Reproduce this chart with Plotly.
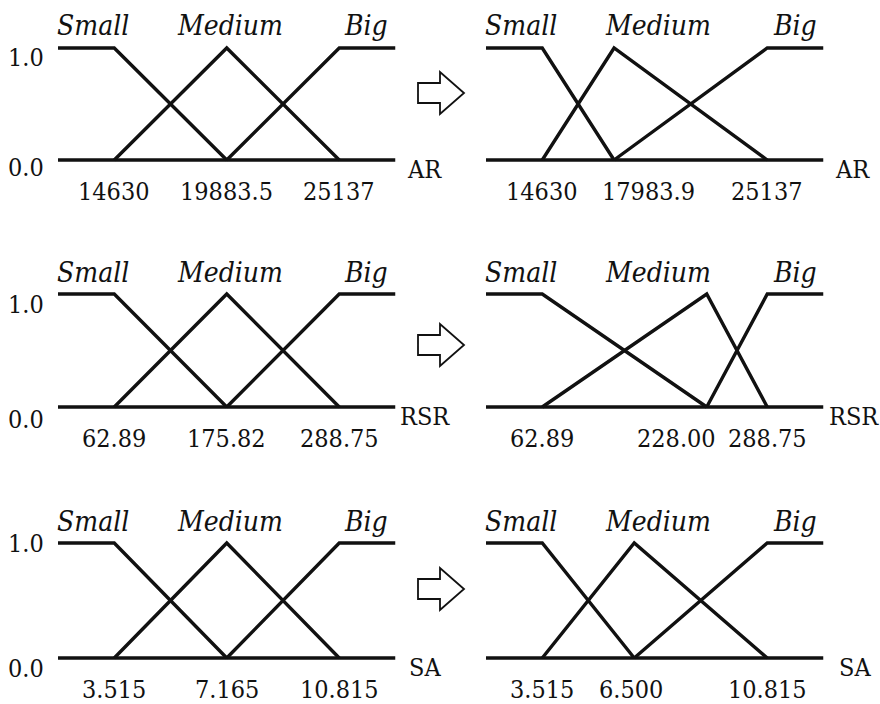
import plotly.graph_objects as go

# Fuzzy sets for each attribute, before and after tuning
set_names = ["Small", "Medium", "Big"]
variables = ["AR", "RSR", "SA"]

ar_before = [14630, 19883.5, 25137]
ar_after = [14630, 17983.9, 25137]
rsr_before = [62.89, 175.82, 288.75]
rsr_after = [62.89, 228.00, 288.75]
sa_before = [3.515, 7.165, 10.815]
sa_after = [3.515, 6.500, 10.815]

ar_before_labels = ["14630", "19883.5", "25137"]
ar_after_labels = ["14630", "17983.9", "25137"]
rsr_before_labels = ["62.89", "175.82", "288.75"]
rsr_after_labels = ["62.89", "228.00", "288.75"]
sa_before_labels = ["3.515", "7.165", "10.815"]
sa_after_labels = ["3.515", "6.500", "10.815"]

grade_labels = ["0.0", "1.0"]

W, H = 880, 704
FONT = "DejaVu Serif Condensed"
INK = "#111111"

panels = [
    (ar_before, ar_before_labels, variables[0], 0, 0),
    (ar_after, ar_after_labels, variables[0], 0, 1),
    (rsr_before, rsr_before_labels, variables[1], 1, 0),
    (rsr_after, rsr_after_labels, variables[1], 1, 1),
    (sa_before, sa_before_labels, variables[2], 2, 0),
    (sa_after, sa_after_labels, variables[2], 2, 1),
]

# pixel layout of each panel: column x extents, row y of grade 1 and grade 0
col_px = [(58, 395.5), (486, 823.5)]
row_px = [(48, 160), (294, 407), (543, 658)]
YPAD = 0.12

# per-panel label tweaks (pixels)
tick_xshift = {1: [0, 34, 0], 3: [0, -30, 0], 5: [0, -3, 0]}
name_gap = {0: 10, 1: 9, 2: 3, 3: 3, 4: 12, 5: 13}
one_shift = [-10, -10, 0]
zero_shift = [-7, -12, -10]

fig = go.Figure()
annotations = []

for i, (vals, labels, var, r, c) in enumerate(panels):
    n = i + 1
    xa = "x" if n == 1 else f"x{n}"
    ya = "y" if n == 1 else f"y{n}"
    a, b, cc = vals
    span = cc - a
    lo, hi = a - 0.25 * span, cc + 0.25 * span

    line = dict(color=INK, width=3.4)
    # baseline
    fig.add_trace(go.Scatter(x=[lo, hi], y=[0, 0], mode="lines", line=line,
                             xaxis=xa, yaxis=ya, hoverinfo="skip"))
    # Small, Medium, Big membership functions
    fig.add_trace(go.Scatter(x=[lo, a, b], y=[1, 1, 0], mode="lines", line=line,
                             xaxis=xa, yaxis=ya, name=set_names[0]))
    fig.add_trace(go.Scatter(x=[a, b, cc], y=[0, 1, 0], mode="lines", line=line,
                             xaxis=xa, yaxis=ya, name=set_names[1]))
    fig.add_trace(go.Scatter(x=[b, cc, hi], y=[0, 1, 1], mode="lines", line=line,
                             xaxis=xa, yaxis=ya, name=set_names[2]))

    x0p, x1p = col_px[c]
    y1p, y0p = row_px[r]
    hpx = y0p - y1p
    top = y1p - YPAD * hpx
    bot = y0p + YPAD * hpx
    key = "" if n == 1 else str(n)
    fig.layout["xaxis" + key] = dict(domain=[x0p / W, x1p / W], range=[lo, hi],
                                     visible=False, fixedrange=True,
                                     anchor=ya)
    fig.layout["yaxis" + key] = dict(domain=[1 - bot / H, 1 - top / H],
                                     range=[-YPAD, 1 + YPAD], visible=False,
                                     fixedrange=True, anchor=xa)

    xd, yd = xa + " domain", ya

    # set names above the top of the sets
    for name, xpos, anchor, sh in [(set_names[0], 0, "left", -3),
                                   (set_names[1], 0.5, "center", 3),
                                   (set_names[2], 1, "right", -5)]:
        annotations.append(dict(text="<i>" + name + "</i>", xref=xd, yref=yd,
                                x=xpos, y=1,
                                xanchor=anchor, yanchor="middle", yshift=22,
                                xshift=sh, showarrow=False,
                                font=dict(family=FONT, size=28, color=INK)))

    # breakpoint labels under the baseline
    shifts = tick_xshift.get(i, [0, 0, 0])
    for v, lab, sh in zip(vals, labels, shifts):
        annotations.append(dict(text=lab, xref=xa, yref=yd, x=v, y=0,
                                xanchor="center", yanchor="middle",
                                yshift=-31, xshift=sh, showarrow=False,
                                font=dict(family=FONT, size=25, color=INK)))

    # variable name at the end of the baseline
    annotations.append(dict(text=var, xref=xd, yref=yd, x=1, y=0,
                            xanchor="left", yanchor="middle",
                            xshift=name_gap[i], yshift=-9, showarrow=False,
                            font=dict(family=FONT, size=25, color=INK)))

    # membership grades on the left column
    if c == 0:
        for g, lab, ysh in [(0, grade_labels[0], zero_shift[r]),
                            (1, grade_labels[1], one_shift[r])]:
            annotations.append(dict(text=lab, xref=xd, yref=yd, x=0, y=g,
                                    xanchor="right", yanchor="middle",
                                    xshift=-12, yshift=ysh, showarrow=False,
                                    font=dict(family=FONT, size=25, color=INK)))

# hollow block arrows between the columns
def px(x, y):
    return f"{x / W:.5f},{1 - y / H:.5f}"

shapes = []
for cy in [93, 345, 589]:
    pts = [(418, cy - 10), (440, cy - 10), (440, cy - 21), (464, cy),
           (440, cy + 21), (440, cy + 10), (418, cy + 10)]
    path = "M " + " L ".join(px(x, y) for x, y in pts) + " Z"
    shapes.append(dict(type="path", path=path, xref="paper", yref="paper",
                       line=dict(color=INK, width=1.8), fillcolor="white"))

fig.update_layout(width=W, height=H, margin=dict(l=0, r=0, t=0, b=0),
                  paper_bgcolor="white", plot_bgcolor="white",
                  showlegend=False, annotations=annotations, shapes=shapes,
                  font=dict(family=FONT, color=INK))

fig.write_html("out.html")
